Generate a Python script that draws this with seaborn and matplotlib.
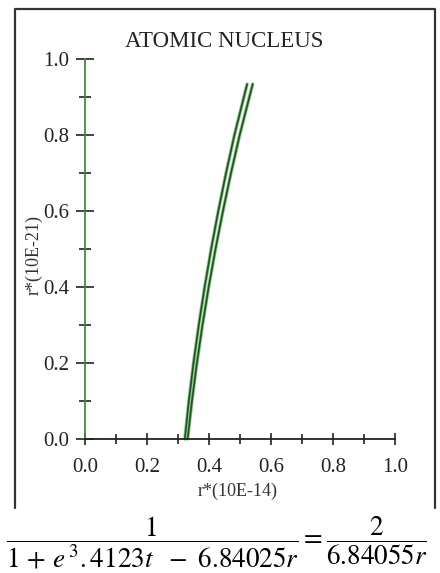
import matplotlib
matplotlib.use("Agg")
import matplotlib.pyplot as plt
from matplotlib.lines import Line2D
from matplotlib.ticker import MultipleLocator, FormatStrFormatter
import seaborn as sns
import pandas as pd

# ---- data ----
title = "ATOMIC NUCLEUS"
x_label = "r*(10E-14)"
y_label = "r*(10E-21)"
curve_y = [0.0, 0.1, 0.2, 0.3, 0.4, 0.5, 0.6, 0.7, 0.8, 0.934]
curve1_x = [0.322, 0.335, 0.350, 0.367, 0.386, 0.407, 0.430, 0.455, 0.482, 0.523]
curve2_x = [0.331, 0.345, 0.361, 0.379, 0.399, 0.421, 0.445, 0.471, 0.499, 0.541]
equation = r"$\dfrac{1}{1\,+\,e^{\,3}.4123t\ \ -\ 6.84025r} = \dfrac{2}{6.84055r}$"

sns.set_style("white")
plt.rcParams["font.family"] = ["Liberation Serif", "DejaVu Serif"]
plt.rcParams["mathtext.fontset"] = "stix"

W, H = 440, 573
fig = plt.figure(figsize=(W / 100, H / 100), dpi=100)
fig.patch.set_facecolor("white")

# axes: x 0..1 at px 85..395 ; y 0..1 at px 439..59
ax = fig.add_axes([85 / W, 1 - 439 / H, 310 / W, 380 / H])
ax.set_facecolor("none")

df1 = pd.DataFrame({"x": curve1_x, "y": curve_y})
df2 = pd.DataFrame({"x": curve2_x, "y": curve_y})
for d in (df1, df2):
    sns.lineplot(data=d, x="x", y="y", sort=False, estimator=None,
                 color="#7cc57c", linewidth=2.4, ax=ax, clip_on=False)
    sns.lineplot(data=d, x="x", y="y", sort=False, estimator=None,
                 color="#244f24", linewidth=1.2, ax=ax, clip_on=False)

ax.set_xlim(0, 1)
ax.set_ylim(0, 1)
for s in ("top", "right"):
    ax.spines[s].set_visible(False)
ax.spines["left"].set_color("#3f8f3f")
ax.spines["left"].set_linewidth(1.3)
ax.spines["bottom"].set_color("#222222")
ax.spines["bottom"].set_linewidth(1.3)

ax.xaxis.set_major_locator(MultipleLocator(0.2))
ax.xaxis.set_minor_locator(MultipleLocator(0.1))
ax.yaxis.set_major_locator(MultipleLocator(0.2))
ax.yaxis.set_minor_locator(MultipleLocator(0.1))
ax.xaxis.set_major_formatter(FormatStrFormatter("%.1f"))
ax.yaxis.set_major_formatter(FormatStrFormatter("%.1f"))

ax.tick_params(axis="x", which="major", direction="inout", length=9, width=1.2,
               color="#222222", labelsize=15, pad=9.5, bottom=True)
ax.tick_params(axis="x", which="minor", direction="inout", length=7, width=1.2,
               color="#222222", bottom=True)
ax.tick_params(axis="y", which="major", direction="inout", length=13, width=1.2,
               color="#222222", labelsize=15, pad=5, left=True)
ax.tick_params(axis="y", which="minor", direction="inout", length=8, width=1.2,
               color="#222222", left=True)
for lab in ax.get_xticklabels() + ax.get_yticklabels():
    lab.set_color("#222222")

ax.set_xlabel("")
ax.set_ylabel("")
fig.text(238 / W, 1 - 491 / H, x_label, ha="center", va="center",
         fontsize=13, color="#333333")
fig.text(34 / W, 1 - 255 / H, y_label, ha="center", va="center",
         rotation=90, fontsize=13, color="#333333")

fig.text(224 / W, 1 - 41.5 / H, title, ha="center", va="center",
         fontsize=16.5, color="#222222")

# outer frame (left, top, right)
fx0, fx1 = 15 / W, 435 / W
fy0, fy1 = 1 - 508 / H, 1 - 9 / H
frame = Line2D([fx0, fx0, fx1, fx1], [fy0, fy1, fy1, fy0],
               transform=fig.transFigure, color="#333333", linewidth=1.6)
fig.add_artist(frame)

fig.text(6 / W, 1 - 543 / H, equation, ha="left", va="center",
         fontsize=19.5, color="black")

fig.savefig("out.png", dpi=100, facecolor="white")
